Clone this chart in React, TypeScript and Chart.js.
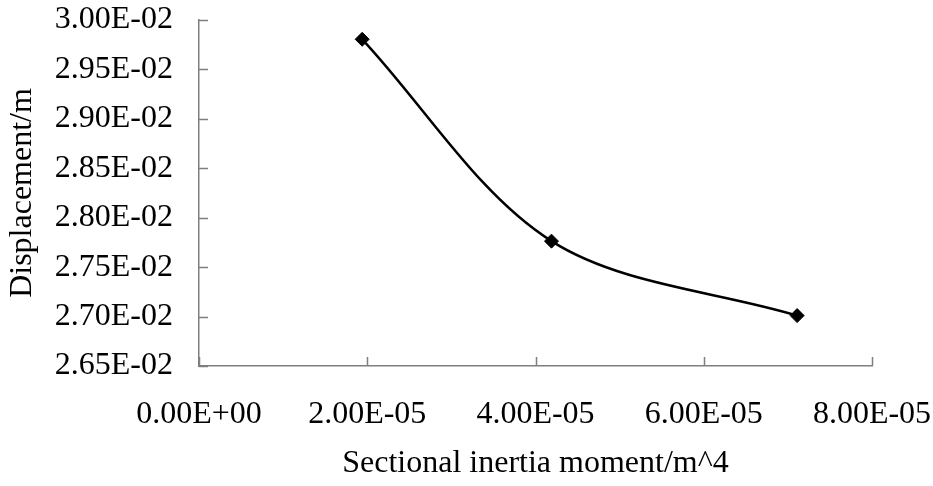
import React, { useEffect, useRef } from 'react';
import { Chart, registerables } from 'chart.js';

Chart.register(...registerables);

// Data
const inertia = [1.94e-5, 4.19e-5, 7.11e-5];
const displacement = [0.029805, 0.027763, 0.02701];

const xTickValues = [0, 2e-5, 4e-5, 6e-5, 8e-5];
const yTickValues = [0.0265, 0.027, 0.0275, 0.028, 0.0285, 0.029, 0.0295, 0.03];

const xTitle = 'Sectional inertia moment/m^4';
const yTitle = 'Displacement/m';

const FONT_FAMILY = "'Times New Roman', 'Liberation Serif', serif";
const FONT_SIZE = 32;
const AXIS_COLOR = '#7f7f7f';

function fmtE(v: number): string {
  const [m, e] = v.toExponential(2).split('e');
  const n = parseInt(e, 10);
  const sign = n < 0 ? '-' : '+';
  return `${m}E${sign}${String(Math.abs(n)).padStart(2, '0')}`;
}

function zeroPadding(s: any) {
  s.paddingTop = 0;
  s.paddingBottom = 0;
  s.paddingLeft = 0;
  s.paddingRight = 0;
}

const innerTicks = {
  id: 'innerTicks',
  afterDraw(chart: any) {
    const { ctx, chartArea, scales } = chart;
    const len = 9;
    ctx.save();
    ctx.strokeStyle = AXIS_COLOR;
    ctx.lineWidth = 1.5;
    ctx.beginPath();
    scales.y.ticks.forEach((t: any) => {
      const y = Math.round(scales.y.getPixelForValue(t.value)) + 0.5;
      ctx.moveTo(chartArea.left, y);
      ctx.lineTo(chartArea.left + len, y);
    });
    scales.x.ticks.forEach((t: any) => {
      const x = Math.round(scales.x.getPixelForValue(t.value)) + 0.5;
      ctx.moveTo(x, chartArea.bottom);
      ctx.lineTo(x, chartArea.bottom - len);
    });
    ctx.stroke();
    ctx.restore();
  },
};

export default function App() {
  const canvasRef = useRef<HTMLCanvasElement | null>(null);

  useEffect(() => {
    if (!canvasRef.current) return;
    const points = inertia.map((x, i) => ({ x, y: displacement[i] }));
    const chart = new Chart(canvasRef.current, {
      type: 'scatter',
      data: {
        datasets: [
          {
            data: points,
            showLine: true,
            tension: 0.33,
            borderColor: '#000000',
            borderWidth: 2.5,
            backgroundColor: '#000000',
            pointStyle: 'rectRot',
            pointRadius: 7,
            pointBorderWidth: 1,
            pointBackgroundColor: '#000000',
            pointBorderColor: '#000000',
          },
        ],
      },
      plugins: [innerTicks],
      options: {
        responsive: false,
        animation: false,
        layout: { padding: { left: 0, right: 61, top: 20, bottom: 0 } },
        plugins: {
          legend: { display: false },
          tooltip: { enabled: false },
        },
        scales: {
          x: {
            type: 'linear',
            min: 0,
            max: 8e-5,
            afterBuildTicks: (s: any) => {
              s.ticks = xTickValues.map((v) => ({ value: v }));
            },
            afterFit: (s: any) => {
              s.height = 120;
              zeroPadding(s);
            },
            grid: { display: false, drawTicks: false },
            border: { display: true, color: AXIS_COLOR, width: 1.5 },
            ticks: {
              padding: 29,
              color: '#000000',
              maxRotation: 0,
              autoSkip: false,
              font: { family: FONT_FAMILY, size: FONT_SIZE },
              callback: (v: any) => fmtE(Number(v)),
            },
            title: {
              display: true,
              text: xTitle,
              color: '#000000',
              font: { family: FONT_FAMILY, size: FONT_SIZE },
              padding: { top: 0, bottom: 3 },
            },
          },
          y: {
            type: 'linear',
            min: 0.0265,
            max: 0.03,
            afterBuildTicks: (s: any) => {
              s.ticks = yTickValues.map((v) => ({ value: v }));
            },
            afterFit: (s: any) => {
              s.width = 199;
              zeroPadding(s);
            },
            grid: { display: false, drawTicks: false },
            border: { display: true, color: AXIS_COLOR, width: 1.5 },
            ticks: {
              padding: 26,
              color: '#000000',
              autoSkip: false,
              font: { family: FONT_FAMILY, size: FONT_SIZE },
              callback: (v: any) => fmtE(Number(v)),
            },
            title: {
              display: true,
              text: yTitle,
              color: '#000000',
              font: { family: FONT_FAMILY, size: FONT_SIZE },
              padding: { top: 3, bottom: 0 },
            },
          },
        },
      },
    });
    return () => chart.destroy();
  }, []);

  return (
    <div style={{ position: 'absolute', left: 0, top: 0, width: 933, height: 486, background: '#ffffff' }}>
      <canvas ref={canvasRef} width={933} height={486} style={{ display: 'block' }} />
    </div>
  );
}
